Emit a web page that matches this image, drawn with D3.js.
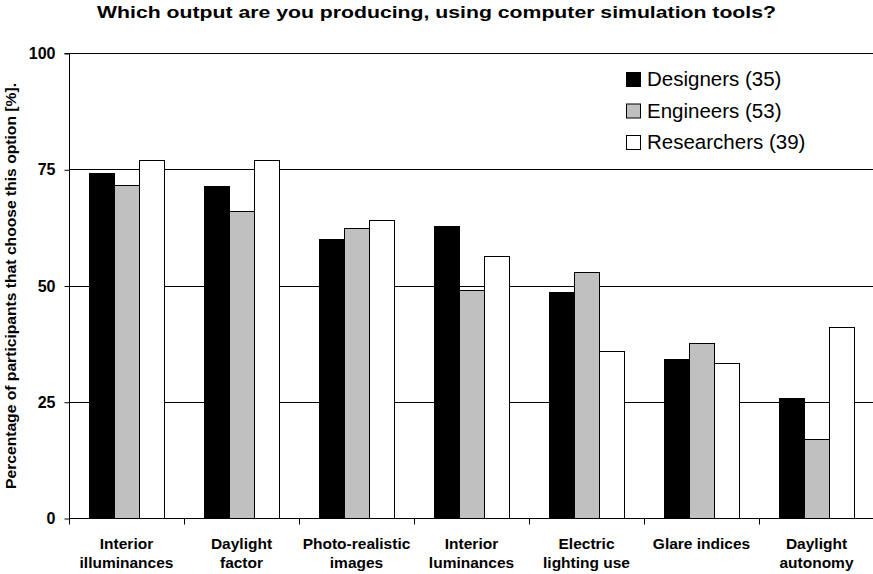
<!DOCTYPE html>
<html>
<head>
<meta charset="utf-8">
<script src="https://cdn.jsdelivr.net/npm/d3@7"></script>
<style>
  html, body { margin: 0; padding: 0; background: #fff; }
  svg { display: block; font-family: "Liberation Sans", Arial, sans-serif; }
</style>
</head>
<body>
<svg id="chart" width="873" height="574"></svg>
<script>
// Survey output categories (two-line labels)
const categories = [
  ["Interior", "illuminances"],
  ["Daylight", "factor"],
  ["Photo-realistic", "images"],
  ["Interior", "luminances"],
  ["Electric", "lighting use"],
  ["Glare indices"],
  ["Daylight", "autonomy"]
];

const seriesNames = ["Designers (35)", "Engineers (53)", "Researchers (39)"];
const seriesColors = ["#000000", "#c0c0c0", "#ffffff"];

// Share of each group choosing the option, in percent
const designers   = [74.3, 71.4, 60.0, 62.9, 48.6, 34.3, 25.7];
const engineers   = [71.7, 66.0, 62.3, 49.1, 52.8, 37.7, 17.0];
const researchers = [76.9, 76.9, 64.1, 56.4, 35.9, 33.3, 41.0];

const yTicks = [0, 25, 50, 75, 100];

const seriesValues = [designers, engineers, researchers];
const catKeys = categories.map(c => c.join(" "));

const svg = d3.select("#chart");
const plot = { left: 69, right: 874, top: 53, bottom: 518 };

const x = d3.scaleBand()
  .domain(catKeys)
  .range([plot.left, plot.right])
  .paddingInner(0)
  .paddingOuter(0);

const x1 = d3.scaleBand()
  .domain(seriesNames)
  .range([0, x.bandwidth()])
  .paddingInner(0)
  .paddingOuter(0.8);

const y = d3.scaleLinear()
  .domain([0, 100])
  .range([plot.bottom, plot.top]);

// Title (wide bold face)
svg.append("text")
  .attr("x", 97)
  .attr("y", 18)
  .attr("font-size", 17)
  .attr("font-weight", "bold")
  .attr("textLength", 679)
  .attr("lengthAdjust", "spacingAndGlyphs")
  .text("Which output are you producing, using computer simulation tools?");

// Horizontal gridlines
svg.append("g")
  .selectAll("line")
  .data(yTicks.filter(t => t > 0))
  .join("line")
  .attr("x1", plot.left)
  .attr("x2", plot.right)
  .attr("y1", d => Math.round(y(d)) + 0.5)
  .attr("y2", d => Math.round(y(d)) + 0.5)
  .attr("stroke", "#000")
  .attr("stroke-width", 1);

// Bars
const groups = svg.append("g")
  .selectAll("g")
  .data(seriesNames)
  .join("g")
  .attr("fill", (d, i) => seriesColors[i]);

groups.selectAll("rect")
  .data((s, si) => seriesValues[si].map((v, ci) => ({ s, v, c: catKeys[ci] })))
  .join("rect")
  .attr("x", d => Math.round(x(d.c) + x1(d.s)) + 0.5)
  .attr("y", d => Math.round(y(d.v)) + 0.5)
  .attr("width", Math.round(x1.bandwidth()))
  .attr("height", d => Math.round(y(0)) - Math.round(y(d.v)))
  .attr("stroke", "#000")
  .attr("stroke-width", 1);

// Y axis
const yAxis = d3.axisLeft(y)
  .tickValues(yTicks)
  .tickSize(5)
  .tickPadding(9)
  .tickFormat(d3.format("d"));

const yg = svg.append("g")
  .attr("transform", `translate(${plot.left + 0.5},0.5)`)
  .call(yAxis);
yg.select(".domain").attr("d", `M-5,${Math.round(y(100))}H0V${Math.round(y(0))}`);
yg.selectAll("text")
  .attr("font-family", "'Liberation Sans', Arial, sans-serif")
  .attr("font-size", 16)
  .attr("font-weight", "bold")
  .attr("fill", "#000");
yg.selectAll("line").attr("stroke", "#000");
yg.select(".domain").attr("stroke", "#000");

// X axis with ticks at category boundaries
const xg = svg.append("g")
  .attr("transform", `translate(0,${Math.round(y(0)) + 0.5})`);
xg.append("line")
  .attr("x1", plot.left)
  .attr("x2", plot.right)
  .attr("stroke", "#000");
xg.selectAll(".bound")
  .data(catKeys)
  .join("line")
  .attr("class", "bound")
  .attr("x1", d => Math.round(x(d)) + 0.5)
  .attr("x2", d => Math.round(x(d)) + 0.5)
  .attr("y1", 0)
  .attr("y2", 6)
  .attr("stroke", "#000");

const labels = xg.selectAll(".cat")
  .data(categories)
  .join("text")
  .attr("class", "cat")
  .attr("text-anchor", "middle")
  .attr("font-size", 15.5)
  .attr("font-weight", "bold")
  .attr("transform", (d, i) => `translate(${x(catKeys[i]) + x.bandwidth() / 2},30)`);
labels.selectAll("tspan")
  .data(d => d)
  .join("tspan")
  .attr("x", 0)
  .attr("dy", (d, i) => i === 0 ? 0 : 19)
  .text(d => d);

// Y axis title
svg.append("text")
  .attr("transform", `translate(16,489) rotate(-90)`)
  .attr("font-size", 15)
  .attr("font-weight", "bold")
  .attr("textLength", 406)
  .attr("lengthAdjust", "spacingAndGlyphs")
  .text("Percentage of participants that choose this option [%].");

// Legend
const legend = svg.append("g")
  .attr("transform", "translate(626,72)");
const items = legend.selectAll("g")
  .data(seriesNames)
  .join("g")
  .attr("transform", (d, i) => `translate(0,${i * 31.5})`);
items.append("rect")
  .attr("x", 0.5)
  .attr("y", 0.5)
  .attr("width", 14)
  .attr("height", 14)
  .attr("fill", (d, i) => seriesColors[i])
  .attr("stroke", "#000");
items.append("text")
  .attr("x", 21)
  .attr("y", 14)
  .attr("font-size", 20.5)
  .text(d => d);
</script>
</body>
</html>
